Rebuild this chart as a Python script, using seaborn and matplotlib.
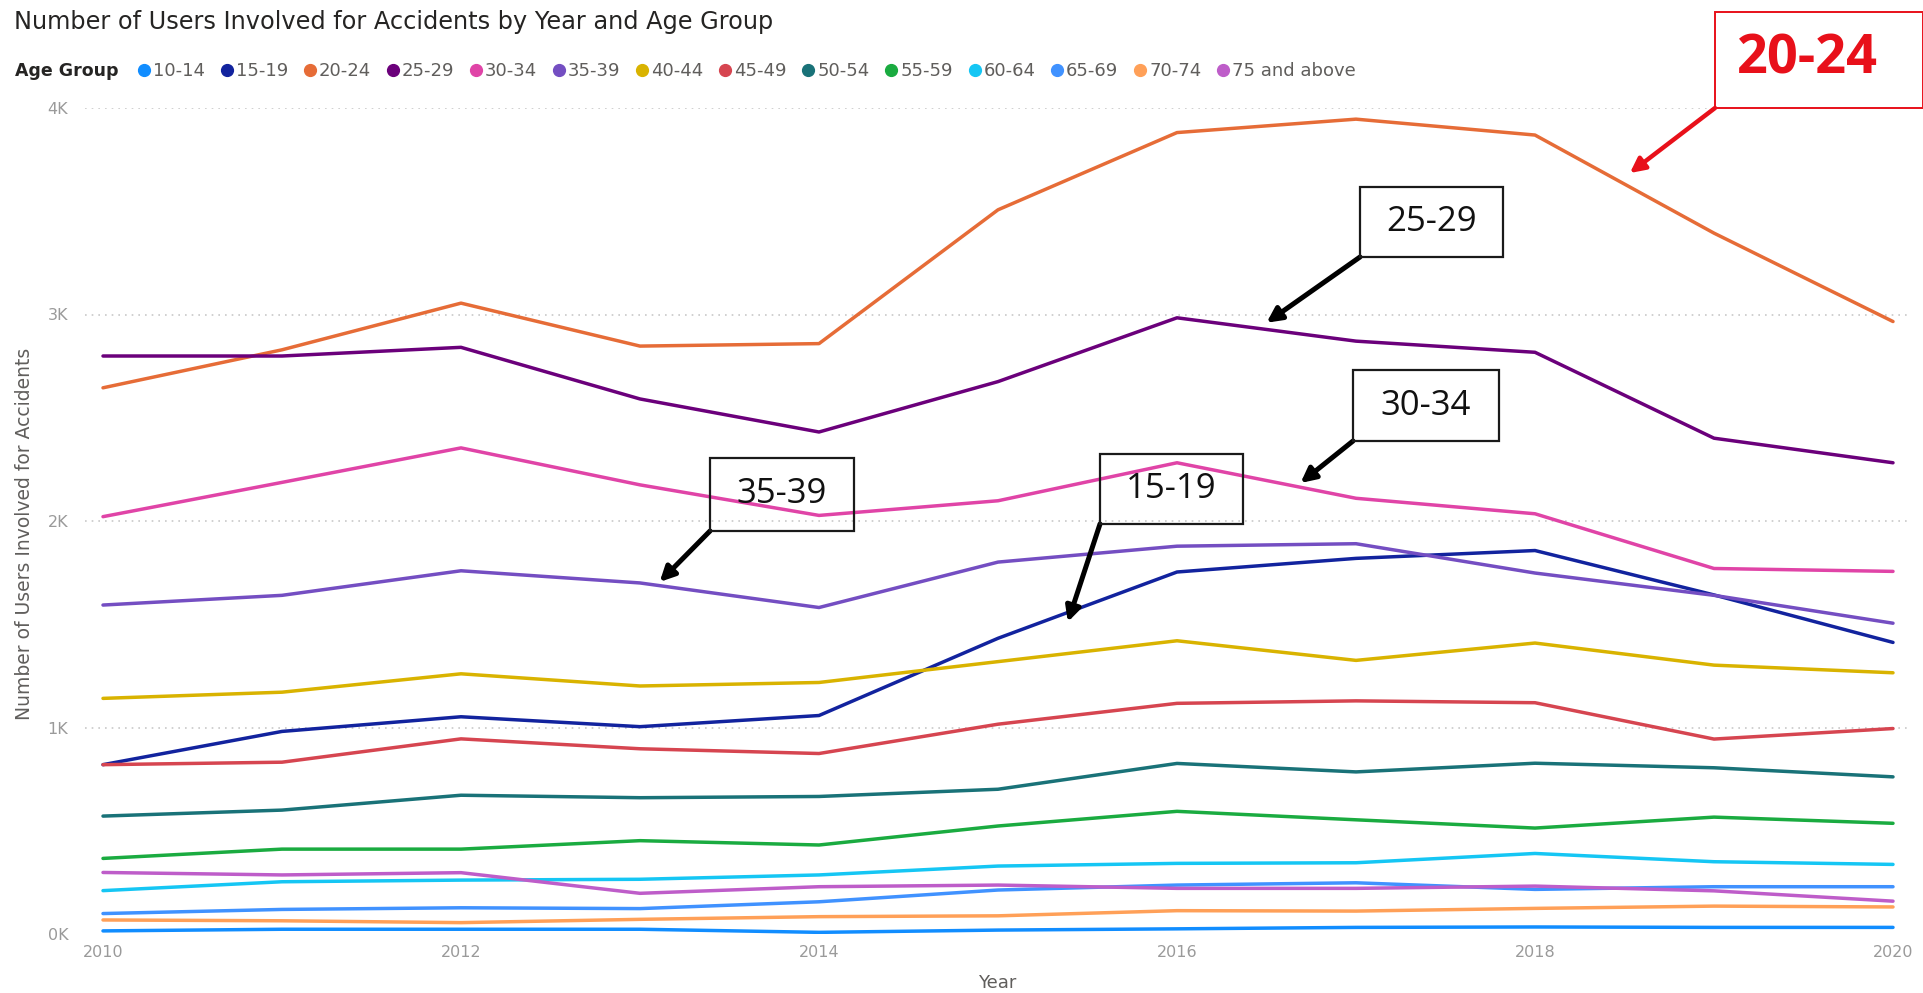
import matplotlib
matplotlib.use("Agg")
import matplotlib.pyplot as plt
from matplotlib.lines import Line2D
from matplotlib.patches import Rectangle
import numpy as np
import pandas as pd
import seaborn as sns

# ---- data -------------------------------------------------------------
years = [2010, 2011, 2012, 2013, 2014, 2015, 2016, 2017, 2018, 2019, 2020]

age_groups = ["10-14", "15-19", "20-24", "25-29", "30-34", "35-39", "40-44",
              "45-49", "50-54", "55-59", "60-64", "65-69", "70-74", "75 and above"]

users_10_14 = [15, 23, 23, 23, 8, 19, 25, 32, 34, 32, 32]
users_15_19 = [820, 981, 1052, 1004, 1058, 1432, 1753, 1819, 1857, 1642, 1412]
users_20_24 = [2645, 2829, 3055, 2847, 2859, 3507, 3881, 3946, 3869, 3394, 2966]
users_25_29 = [2799, 2799, 2841, 2591, 2431, 2675, 2984, 2871, 2817, 2401, 2282]
users_30_34 = [2021, 2187, 2354, 2175, 2027, 2098, 2282, 2110, 2035, 1770, 1756]
users_35_39 = [1593, 1640, 1759, 1700, 1581, 1801, 1878, 1890, 1748, 1640, 1505]
users_40_44 = [1141, 1171, 1260, 1201, 1218, 1319, 1420, 1325, 1409, 1302, 1265]
users_45_49 = [820, 832, 945, 897, 874, 1016, 1117, 1129, 1120, 944, 995]
users_50_54 = [571, 600, 672, 660, 666, 701, 826, 785, 827, 805, 761]
users_55_59 = [366, 411, 411, 452, 431, 523, 594, 553, 513, 566, 536]
users_60_64 = [210, 253, 261, 265, 286, 329, 342, 345, 390, 350, 337]
users_65_69 = [99, 119, 127, 123, 156, 213, 237, 248, 216, 229, 229]
users_70_74 = [68, 64, 55, 71, 84, 88, 113, 111, 124, 135, 131]
users_75_up = [298, 286, 297, 197, 229, 237, 221, 221, 232, 209, 159]

series = [users_10_14, users_15_19, users_20_24, users_25_29, users_30_34,
          users_35_39, users_40_44, users_45_49, users_50_54, users_55_59,
          users_60_64, users_65_69, users_70_74, users_75_up]

colors = ["#118DFF", "#12239E", "#E66C37", "#6B007B", "#E044A7", "#744EC2",
          "#D9B300", "#D64550", "#197278", "#1AAB40", "#15C6F4", "#4092FF",
          "#FFA058", "#BE5DC9"]

y_ticks = [0, 1000, 2000, 3000, 4000]
y_tick_labels = ["0K", "1K", "2K", "3K", "4K"]
x_ticks = [2010, 2012, 2014, 2016, 2018, 2020]

# callouts: label, arrow head (year, users)
callouts = [("25-29", 2016.5, 2960), ("30-34", 2016.69, 2184),
            ("35-39", 2013.11, 1705), ("15-19", 2015.39, 1511)]
highlight = ("20-24", 2018.53, 3685)

df = pd.DataFrame({
    "Year": np.tile(years, len(age_groups)),
    "Age Group": np.repeat(age_groups, len(years)),
    "Users": np.concatenate(series),
})
palette = dict(zip(age_groups, colors))

# ---- figure -----------------------------------------------------------
sns.set_theme(style="white")
plt.rcParams["font.family"] = ["DejaVu Sans"]

W, H = 1924, 993
fig = plt.figure(figsize=(W / 100, H / 100), dpi=100)
fig.patch.set_facecolor("white")


def fx(x):
    return x / W


def fy(y):
    return 1 - y / H


ax = fig.add_axes([fx(85), fy(934), fx(1910) - fx(85), fy(108) - fy(934)])

sns.lineplot(data=df, x="Year", y="Users", hue="Age Group", hue_order=age_groups,
             palette=palette, linewidth=2.5, legend=False, ax=ax, sort=True)

ax.set_xlim(2010 - 18 / 179, 2020 + 17 / 179)
ax.set_ylim(0, 4000)
ax.set_yticks(y_ticks)
ax.set_yticklabels(y_tick_labels)
ax.set_xticks(x_ticks)
ax.set_xticklabels([str(v) for v in x_ticks])
for s in ax.spines.values():
    s.set_visible(False)
ax.tick_params(axis="both", length=0, labelsize=11.5, colors="#9A9A9A")
ax.tick_params(axis="y", pad=12)
ax.tick_params(axis="x", pad=8)
ax.yaxis.grid(True, linestyle=(0, (1, 3)), color="#C8C8C8", linewidth=1.2)
ax.xaxis.grid(False)
ax.get_ygridlines()[0].set_visible(False)
ax.set_axisbelow(True)

ax.set_xlabel("Year", fontsize=13, color="#605E5C", labelpad=10)
ax.set_ylabel("")
fig.text(fx(25), fy(534), "Number of Users Involved for Accidents", rotation=90,
         ha="center", va="center", fontsize=13.5, color="#605E5C")

# title and legend row
fig.text(fx(14), fy(22), "Number of Users Involved for Accidents by Year and Age Group",
         ha="left", va="center", fontsize=17.3, color="#252423")
fig.text(fx(15), fy(71), "Age Group", ha="left", va="center", fontsize=12.5,
         fontweight="bold", color="#252423")
handles = [Line2D([0], [0], marker="o", linestyle="none", markersize=8.5,
                  markerfacecolor=c, markeredgecolor=c) for c in colors]
fig.legend(handles, age_groups, ncol=len(age_groups), loc="center left",
           bbox_to_anchor=(fx(138), fy(71)), frameon=False, fontsize=13,
           handlelength=0.7, handletextpad=0.15, columnspacing=0.85,
           borderpad=0, borderaxespad=0, labelcolor="#605E5C")

# callout boxes with arrows
boxes = {"25-29": (1360, 187, 1503, 257), "30-34": (1353, 370, 1499, 441),
         "35-39": (710, 458, 854, 531), "15-19": (1100, 454, 1243, 524)}
for label, hx, hy in callouts:
    x0, y0, x1, y1 = boxes[label]
    fig.add_artist(Rectangle((fx(x0), fy(y1)), fx(x1) - fx(x0), fy(y0) - fy(y1),
                             transform=fig.transFigure, facecolor="none",
                             edgecolor="#1A1A1A", linewidth=1.6, zorder=5))
    fig.text(fx((x0 + x1) / 2), fy((y0 + y1) / 2), label, ha="center", va="center",
             fontsize=25, color="#111111", zorder=6, family="Open Sans")
    ax.annotate("", xy=(hx, hy), xycoords="data", xytext=(fx(x0), fy(y1)),
                textcoords="figure fraction", annotation_clip=False,
                arrowprops=dict(arrowstyle="-|>", color="black", lw=3.6,
                                mutation_scale=22, shrinkA=0, shrinkB=0))

label, hx, hy = highlight
rx0, ry0, rx1, ry1 = 1715, 12, 1923, 108
fig.add_artist(Rectangle((fx(rx0), fy(ry1)), fx(rx1) - fx(rx0), fy(ry0) - fy(ry1),
                         transform=fig.transFigure, facecolor="none",
                         edgecolor="#E8101A", linewidth=1.4, zorder=5))
fig.text(fx(1807), fy(60), label, ha="center", va="center", fontsize=39,
         fontweight="bold", color="#E8101A", zorder=6, family="Open Sans")
ax.annotate("", xy=(hx, hy), xycoords="data", xytext=(fx(rx0), fy(ry1)),
            textcoords="figure fraction", annotation_clip=False,
            arrowprops=dict(arrowstyle="-|>", color="#E8101A", lw=3.2,
                            mutation_scale=22, shrinkA=0, shrinkB=0))

fig.savefig("out.png", dpi=100, facecolor="white")
